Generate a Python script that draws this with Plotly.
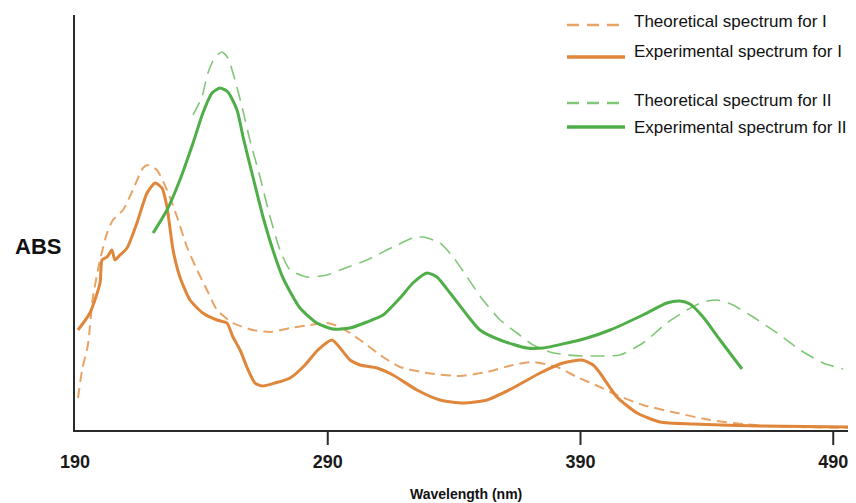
import plotly.graph_objects as go

# ---------------- data (wavelength nm, absorbance a.u.) ----------------
exp_I_x = [191.2, 195.9, 199.9, 200.7, 202.7, 204.6, 205.8, 207.8, 210.6, 214.5, 218.5, 221.7,
           224.4, 226.4, 228.8, 231.5, 235.5, 240.6, 246.2, 250.1, 252.5, 255.3, 258.5, 261.2,
           264.0, 269.1, 275.1, 281.0, 286.1, 291.7, 298.8, 302.8, 309.5, 315.8, 325.3, 334.4,
           343.5, 353.0, 363.3, 374.0, 383.1, 390.6, 395.0, 397.7, 404.4, 412.4, 421.5, 434.5,
           461.0, 499.0]
exp_I_y = [1.00, 1.17, 1.47, 1.70, 1.73, 1.80, 1.70, 1.75, 1.82, 2.07, 2.37, 2.47,
           2.42, 2.23, 1.80, 1.53, 1.30, 1.17, 1.10, 1.07, 0.93, 0.80, 0.60, 0.47,
           0.44, 0.47, 0.52, 0.65, 0.80, 0.90, 0.70, 0.65, 0.62, 0.55, 0.40, 0.30,
           0.27, 0.30, 0.42, 0.57, 0.67, 0.70, 0.65, 0.57, 0.33, 0.17, 0.08, 0.06,
           0.04, 0.03]

theo_I_x = [191.2, 192.8, 195.1, 197.1, 199.9, 202.7, 205.0, 209.0, 212.9, 216.9, 218.9, 222.4,
            226.4, 230.4, 234.3, 238.3, 242.2, 246.2, 252.5, 260.4, 267.2, 275.1, 283.0, 289.7,
            294.9, 302.8, 311.9, 318.6, 329.3, 342.3, 353.0, 363.3, 371.2, 380.7, 388.6, 397.7,
            404.4, 414.7, 428.2, 441.2, 454.3, 463.8, 476.9, 499.0]
theo_I_y = [0.32, 0.60, 0.85, 1.33, 1.70, 1.97, 2.10, 2.20, 2.40, 2.62, 2.65, 2.60,
            2.40, 2.13, 1.83, 1.60, 1.40, 1.20, 1.07, 1.00, 0.98, 1.02, 1.05, 1.07,
            1.03, 0.90, 0.73, 0.63, 0.57, 0.54, 0.58, 0.65, 0.68, 0.63, 0.53, 0.43,
            0.35, 0.25, 0.17, 0.10, 0.06, 0.04, 0.03, 0.02]

exp_II_x = [220.9, 226.4, 231.5, 236.7, 240.6, 244.2, 247.4, 250.5, 254.1, 256.5, 260.4, 264.4,
            268.3, 272.3, 279.0, 285.7, 292.1, 298.8, 305.5, 311.9, 318.6, 323.7, 329.3, 333.2,
            338.4, 345.1, 350.2, 358.2, 368.8, 375.2, 384.7, 392.6, 401.7, 414.7, 424.2, 429.4,
            433.3, 438.5, 445.2, 453.9]
exp_II_y = [1.97, 2.20, 2.50, 2.87, 3.17, 3.37, 3.42, 3.38, 3.20, 2.93, 2.53, 2.13,
            1.80, 1.52, 1.22, 1.07, 1.01, 1.02, 1.08, 1.15, 1.32, 1.47, 1.57, 1.53,
            1.37, 1.15, 1.00, 0.90, 0.82, 0.82, 0.87, 0.92, 1.00, 1.15, 1.27, 1.29,
            1.26, 1.13, 0.90, 0.61]

theo_II_x = [236.7, 240.2, 242.6, 245.4, 248.2, 250.5, 253.3, 256.1, 259.2, 263.2, 267.2, 271.1,
             275.1, 281.8, 289.7, 294.9, 305.5, 315.8, 323.7, 327.7, 334.4, 339.6, 345.1, 351.4,
             358.2, 364.9, 371.2, 377.9, 384.7, 391.0, 397.7, 405.6, 414.7, 424.2, 432.1, 438.5,
             444.0, 450.3, 458.3, 467.8, 476.9, 486.0, 493.9]
theo_II_y = [3.15, 3.33, 3.57, 3.73, 3.78, 3.72, 3.50, 3.23, 2.90, 2.53, 2.13, 1.80,
             1.60, 1.53, 1.55, 1.60, 1.70, 1.83, 1.92, 1.93, 1.87, 1.73, 1.53, 1.30,
             1.10, 0.97, 0.85, 0.78, 0.75, 0.74, 0.74, 0.75, 0.87, 1.07, 1.20, 1.28,
             1.30, 1.25, 1.13, 0.97, 0.80, 0.67, 0.61]

tick_vals = [190, 290, 390, 490]
tick_text = ["190", "290", "390", "490"]

legend_labels = ["Theoretical spectrum for I", "Experimental spectrum for I",
                 "Theoretical spectrum for II", "Experimental spectrum for II"]

# ---------------- styles ----------------
ORANGE = "#E0863A"
ORANGE_L = "#E8A366"
GREEN = "#4FAE47"
GREEN_L = "#80C777"
FONT = "Liberation Sans, Arial, sans-serif"

OFF = 8                      # page body margin
W, H = 856 - OFF, 503 - OFF
L, R, T, B = 75 - OFF, 0, 15 - OFF, 73
PW, PH = W - L - R, H - T - B

def px_x(p):                 # reference-pixel -> paper
    return (p - 75) / PW

def px_y(p):
    return (430 - p) / PH

series = [
    (theo_I_x, theo_I_y, dict(color=ORANGE_L, width=2, dash="10px,6px")),
    (exp_I_x, exp_I_y, dict(color=ORANGE, width=3)),
    (theo_II_x, theo_II_y, dict(color=GREEN_L, width=1.6, dash="14px,8px")),
    (exp_II_x, exp_II_y, dict(color=GREEN, width=3)),
]

fig = go.Figure()
for xs, ys, ln in series:
    fig.add_trace(go.Scatter(x=xs, y=ys, mode="lines",
                             line=dict(shape="spline", smoothing=0.6, **ln),
                             showlegend=False, hoverinfo="skip"))

# manual legend
leg_line_y = [25, 57, 103, 127]
leg_text_y = [21, 51, 100, 127]
for (xs, ys, ln), lab, ly, ty in zip(series, legend_labels, leg_line_y, leg_text_y):
    dashed = "dash" in ln
    fig.add_shape(type="line", xref="paper", yref="paper",
                  x0=px_x(567), x1=px_x(625), y0=px_y(ly), y1=px_y(ly),
                  line=dict(color=ln["color"], width=2.4 if dashed else 3.5,
                            dash="12px,8px" if dashed else None))
    fig.add_annotation(xref="paper", yref="paper", x=px_x(632), y=px_y(ty),
                       xanchor="left", yanchor="middle", text=lab, showarrow=False,
                       font=dict(family=FONT, size=17, color="#111111"))

# x ticks (no tick drawn at 190, where the axes meet)
for v in tick_vals[1:]:
    fig.add_shape(type="line", xref="x", yref="paper", x0=v, x1=v,
                  y0=0, y1=-15 / PH, line=dict(color="#2a2a2a", width=2))

fig.add_annotation(xref="paper", yref="paper", x=px_x(38), y=px_y(247),
                   xanchor="center", yanchor="middle", text="<b>ABS</b>", showarrow=False,
                   font=dict(family=FONT, size=22, color="#111111"))
fig.add_annotation(xref="paper", yref="paper", x=0.5, y=px_y(494),
                   xanchor="center", yanchor="middle", text="<b>Wavelength (nm)</b>",
                   showarrow=False, font=dict(family=FONT, size=14, color="#111111"))

fig.update_layout(
    width=W, height=H,
    margin=dict(l=L, r=R, t=T, b=B, pad=0),
    paper_bgcolor="white", plot_bgcolor="white",
    xaxis=dict(range=[190, 499], showgrid=False, zeroline=False,
               showline=True, linecolor="#2a2a2a", linewidth=2,
               tickvals=tick_vals, ticktext=tick_text,
               ticks="outside", ticklen=14, tickcolor="rgba(0,0,0,0)",
               tickfont=dict(family=FONT, size=18, color="#1a1a1a", weight="bold")),
    yaxis=dict(range=[0, 4.15], showgrid=False, zeroline=False,
               showline=True, linecolor="#2a2a2a", linewidth=2,
               showticklabels=False, ticks=""),
)

fig.write_html("out.html")
